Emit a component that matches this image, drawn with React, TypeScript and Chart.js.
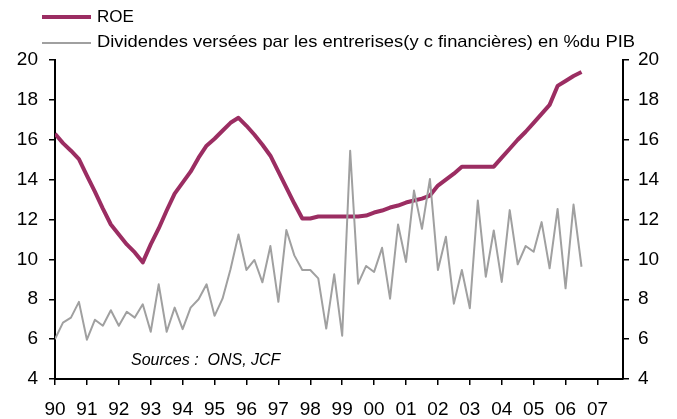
import React, { useEffect, useRef } from 'react';
import { Chart, registerables } from 'chart.js';

Chart.register(...registerables);

const FONT = '"Liberation Sans", Arial, Helvetica, sans-serif';

const yearLabels = ['90', '91', '92', '93', '94', '95', '96', '97', '98', '99', '00', '01', '02', '03', '04', '05', '06', '07'];
const yTicks = [4, 6, 8, 10, 12, 14, 16, 18, 20];

const roeLabel = 'ROE';
const divLabel = 'Dividendes versées par les entrerises(y c financières) en %du PIB';
const sourceText = 'Sources :  ONS, JCF';

// Quarterly values, 1990Q1 .. 2006Q3
const roe = [
  16.3, 15.83, 15.45, 15.03, 14.2, 13.4, 12.55, 11.75, 11.25, 10.75,
  10.35, 9.85, 10.75, 11.55, 12.45, 13.3, 13.85, 14.4, 15.1, 15.7,
  16.05, 16.45, 16.85, 17.1, 16.7, 16.25, 15.75, 15.2, 14.4, 13.6,
  12.8, 12.05, 12.05, 12.15, 12.15, 12.15, 12.15, 12.15, 12.15, 12.2,
  12.35, 12.45, 12.6, 12.7, 12.85, 12.95, 13.05, 13.2, 13.7, 14.0,
  14.3, 14.65, 14.65, 14.65, 14.65, 14.65, 15.1, 15.55, 16.0, 16.4,
  16.85, 17.3, 17.75, 18.7, 18.95, 19.2, 19.4,
];

const dividendes = [
  6.0, 6.83, 7.08, 7.87, 5.97, 6.97, 6.67, 7.45, 6.67, 7.37,
  7.08, 7.75, 6.37, 8.75, 6.37, 7.58, 6.5, 7.58, 8.0, 8.75,
  7.17, 8.03, 9.5, 11.25, 9.47, 9.97, 8.85, 10.67, 7.87, 11.47,
  10.2, 9.47, 9.47, 9.05, 6.53, 9.25, 6.17, 15.45, 8.78, 9.67,
  9.37, 10.58, 8.03, 11.75, 9.87, 13.45, 11.53, 14.03, 9.47, 11.13,
  7.78, 9.47, 7.55, 12.95, 9.13, 11.45, 8.87, 12.47, 9.75, 10.67,
  10.38, 11.87, 9.55, 12.53, 8.55, 12.75, 9.63,
];

const ROE_COLOR = '#9b2d62';
const DIV_COLOR = '#a0a0a0';

export default function App() {
  const ref = useRef<HTMLCanvasElement | null>(null);

  useEffect(() => {
    if (!ref.current) return;

    const overlay = {
      id: 'overlay',
      afterDraw(chart: any) {
        const ctx = chart.ctx as CanvasRenderingContext2D;
        ctx.save();
        ctx.lineCap = 'butt';
        // legend: ROE
        ctx.strokeStyle = ROE_COLOR;
        ctx.lineWidth = 4;
        ctx.beginPath();
        ctx.moveTo(42, 17);
        ctx.lineTo(91, 17);
        ctx.stroke();
        // legend: dividendes
        ctx.strokeStyle = DIV_COLOR;
        ctx.lineWidth = 2;
        ctx.beginPath();
        ctx.moveTo(42, 43);
        ctx.lineTo(91, 43);
        ctx.stroke();
        ctx.fillStyle = '#000';
        ctx.textBaseline = 'middle';
        ctx.textAlign = 'left';
        ctx.font = `17px ${FONT}`;
        ctx.fillText(roeLabel, 97, 17);
        const w = ctx.measureText(divLabel).width;
        ctx.save();
        ctx.translate(97, 42);
        ctx.scale(538 / w, 1);
        ctx.fillText(divLabel, 0, 0);
        ctx.restore();
        ctx.font = `italic 16px ${FONT}`;
        ctx.fillText(sourceText, 131, 361);
        ctx.restore();
      },
    };

    const tickFont = { family: FONT, size: 19 };

    const yAxis = (position: 'left' | 'right', width: number, padding: number) => ({
      type: 'linear' as const,
      position,
      display: true,
      min: 4,
      max: 20,
      afterBuildTicks: (s: any) => {
        s.ticks = yTicks.map((v) => ({ value: v }));
      },
      afterFit: (s: any) => {
        s.width = width;
      },
      ticks: { color: '#000', font: tickFont, padding },
      grid: { drawOnChartArea: false, drawTicks: true, tickLength: 6, color: '#000', lineWidth: 1.5 },
      border: { display: true, color: '#000', width: 2 },
    });

    const chart = new Chart(ref.current, {
      type: 'line',
      data: {
        datasets: [
          {
            label: divLabel,
            data: dividendes.map((v, i) => ({ x: i, y: v })),
            borderColor: DIV_COLOR,
            borderWidth: 2,
            pointRadius: 0,
            tension: 0,
            borderJoinStyle: 'round',
            yAxisID: 'y',
          },
          {
            label: roeLabel,
            data: roe.map((v, i) => ({ x: i, y: v })),
            borderColor: ROE_COLOR,
            borderWidth: 4,
            pointRadius: 0,
            tension: 0,
            borderJoinStyle: 'round',
            yAxisID: 'y',
          },
        ],
      },
      options: {
        responsive: false,
        animation: false,
        events: [],
        layout: { padding: { top: 60, left: 0, right: 0, bottom: 0 } },
        plugins: {
          legend: { display: false },
          tooltip: { enabled: false },
        },
        scales: {
          x: {
            type: 'linear',
            min: 0,
            max: 71.2,
            afterBuildTicks: (s: any) => {
              s.ticks = yearLabels.map((_, i) => ({ value: i * 4 }));
            },
            afterFit: (s: any) => {
              s.height = 40;
            },
            ticks: {
              color: '#000',
              font: tickFont,
              padding: 13,
              autoSkip: false,
              maxRotation: 0,
              callback: (v: any) => yearLabels[Math.round(Number(v) / 4)] ?? '',
            },
            grid: { drawOnChartArea: false, drawTicks: true, tickLength: 6, color: '#000', lineWidth: 1.5 },
            border: { display: true, color: '#000', width: 2 },
          },
          y: yAxis('left', 55, 11),
          y2: yAxis('right', 54, 9),
        },
      },
      plugins: [overlay],
    } as any);

    return () => chart.destroy();
  }, []);

  return (
    <div style={{ position: 'absolute', left: 0, top: 0, width: 677, height: 419, background: '#fff' }}>
      <canvas ref={ref} width={677} height={419} />
    </div>
  );
}
